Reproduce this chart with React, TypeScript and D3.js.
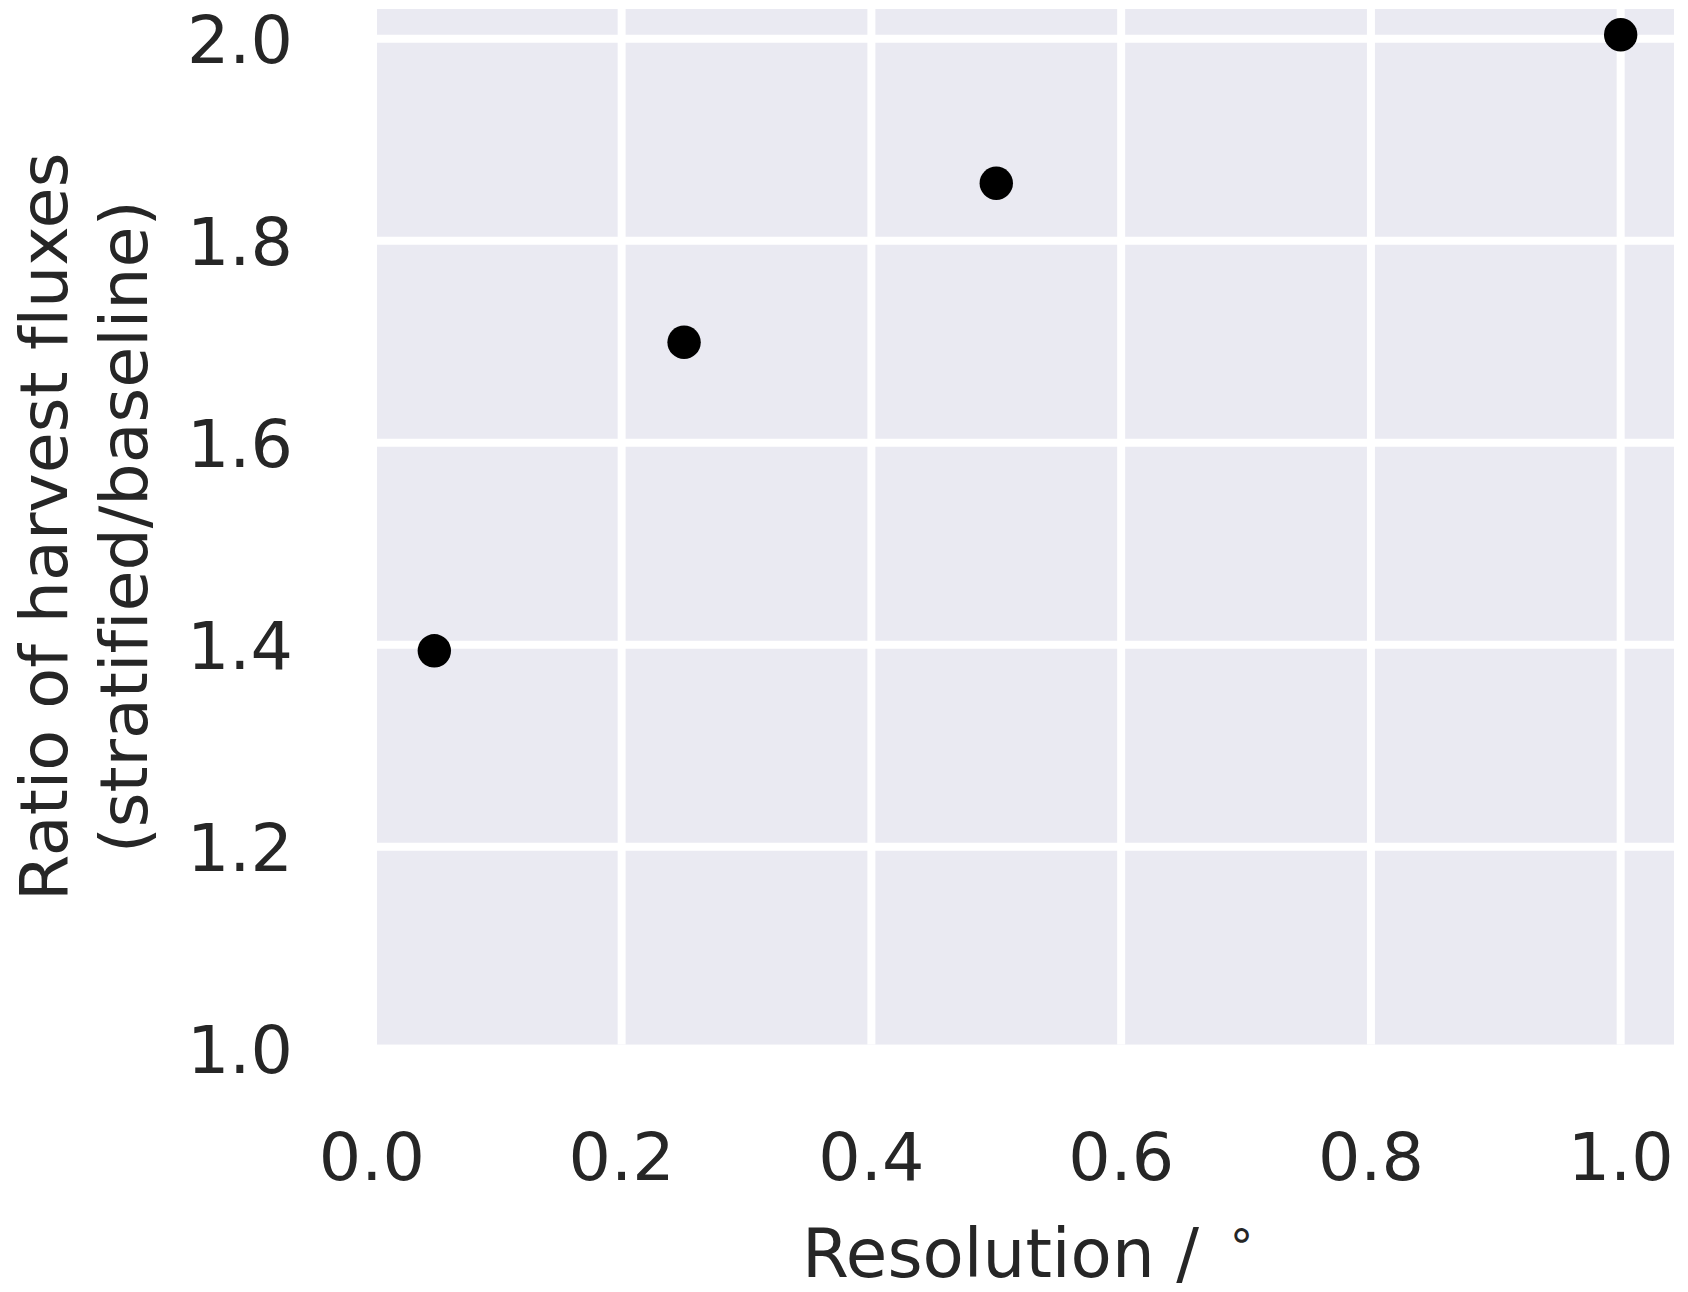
import React from "react";
import * as d3 from "d3";

const resolutions = [0.05, 0.25, 0.5, 1.0];
const ratios = [1.394, 1.6995, 1.857, 2.004];
const xTicks = [0.0, 0.2, 0.4, 0.6, 0.8, 1.0];
const yTicks = [1.0, 1.2, 1.4, 1.6, 1.8, 2.0];
const xDomain = [0.0041, 1.0427];
const yDomain = [1.004, 2.0295];

const W = 1688;
const H = 1292;
const left = 377;
const right = 1674;
const top = 9;
const bottom = 1044.7;
const FONT = "DejaVu Sans, sans-serif";
const FS = 66.7;
const TEXT = "#262626";

export default function App() {
  const x = d3.scaleLinear().domain(xDomain).range([left, right]);
  const y = d3.scaleLinear().domain(yDomain).range([bottom, top]);
  const midY = (top + bottom) / 2;
  return (
    <svg
      width={W}
      height={H}
      style={{ position: "absolute", left: 0, top: 0, background: "#fff", fontVariantLigatures: "none" }}
      fontFamily={FONT}
    >
      <defs>
        <clipPath id="plotclip">
          <rect x={left} y={top} width={right - left} height={bottom - top} />
        </clipPath>
      </defs>
      <rect x={left} y={top} width={right - left} height={bottom - top} fill="#EAEAF2" />
      <g clipPath="url(#plotclip)">
        {xTicks.map((t) => (
          <line key={"gx" + t} x1={x(t)} x2={x(t)} y1={top} y2={bottom} stroke="#fff" strokeWidth={8} />
        ))}
        {yTicks.map((t) => (
          <line key={"gy" + t} x1={left} x2={right} y1={y(t)} y2={y(t)} stroke="#fff" strokeWidth={8} />
        ))}
      </g>
      {xTicks.map((t) => (
        <text key={"tx" + t} x={x(t)} y={1180} textAnchor="middle" fontSize={FS} fill={TEXT}>
          {d3.format(".1f")(t)}
        </text>
      ))}
      {yTicks.map((t) => (
        <text key={"ty" + t} x={293} y={y(t) + 24.3} textAnchor="end" fontSize={FS} fill={TEXT}>
          {d3.format(".1f")(t)}
        </text>
      ))}
      {resolutions.map((r, i) => (
        <circle key={"p" + i} cx={x(r)} cy={y(ratios[i])} r={16.7} fill="#000" />
      ))}
      <text x={802} y={1276.7} fontSize={67.5} fill={TEXT}>
        Resolution /
        <tspan x={1227} y={1250} fontSize={46.7}>∘</tspan>
      </text>
      <g transform={`translate(66.7, ${midY}) rotate(-90)`}>
        <text x={0} y={0} textAnchor="middle" fontSize={FS} fill={TEXT}>
          Ratio of harvest fluxes
        </text>
        <text x={0} y={80} textAnchor="middle" fontSize={FS} fill={TEXT}>
          (stratified/baseline)
        </text>
      </g>
    </svg>
  );
}
